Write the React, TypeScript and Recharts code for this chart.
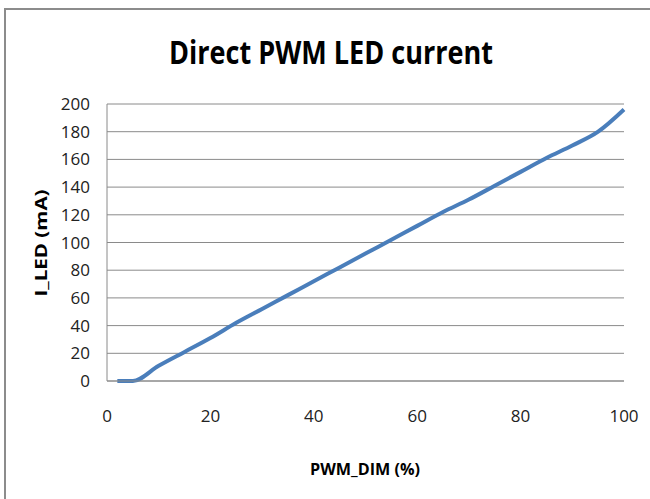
import { LineChart, Line, XAxis, YAxis, CartesianGrid } from "recharts";

const pwmDim = [2, 5, 10, 15, 20, 25, 30, 35, 40, 45, 50, 55, 60, 65, 70, 75, 80, 85, 90, 95, 100];
const iLed = [0, 0, 11, 21, 31, 42, 52, 62, 72, 82, 92, 102, 112, 122, 131, 141, 151, 161, 170, 180, 196];
const xTicks = [0, 20, 40, 60, 80, 100];
const yTicks = [0, 20, 40, 60, 80, 100, 120, 140, 160, 180, 200];

const data = pwmDim.map((x, i) => ({ x, y: iLed[i] }));

const FONT = "'Open Sans', 'Noto Sans', sans-serif";
const GRID = "#8a8a8a";

export default function App() {
  return (
    <div style={{ position: "absolute", left: 0, top: 0, width: 650, height: 499, overflow: "hidden", background: "#fff" }}>
      <div
        style={{
          position: "absolute",
          left: 4,
          top: 8,
          width: 700,
          height: 600,
          borderLeft: "2px solid #8c8c8c",
          borderTop: "2px solid #8c8c8c",
        }}
      />
      <LineChart
        width={650}
        height={499}
        data={data}
        margin={{ top: 104, right: 26, left: 0, bottom: 78 }}
        style={{ position: "absolute", left: 0, top: 0 }}
      >
        <CartesianGrid vertical={false} stroke={GRID} strokeWidth={1} />
        <XAxis
          dataKey="x"
          type="number"
          domain={[0, 100]}
          ticks={xTicks}
          height={40}
          tickSize={0}
          tickMargin={29}
          stroke={GRID}
          tick={{ fontSize: 17, fill: "#222", fontFamily: FONT }}
        />
        <YAxis
          type="number"
          domain={[0, 200]}
          ticks={yTicks}
          width={107}
          tickSize={0}
          tickMargin={17}
          stroke={GRID}
          tick={{ fontSize: 17, fill: "#222", fontFamily: FONT }}
        />
        <Line
          type="monotone"
          dataKey="y"
          stroke="#4a7ebb"
          strokeWidth={4}
          dot={false}
          isAnimationActive={false}
        />
      </LineChart>
      <svg width={650} height={499} style={{ position: "absolute", left: 0, top: 0, pointerEvents: "none" }}>
        <text
          x={169}
          y={64}
          fontFamily={FONT}
          fontWeight="bold"
          fontSize={32}
          textLength={324}
          lengthAdjust="spacingAndGlyphs"
          fill="#000"
        >
          Direct PWM LED current
        </text>
        <text
          x={365}
          y={475}
          textAnchor="middle"
          fontFamily={FONT}
          fontWeight="bold"
          fontSize={16}
          textLength={110}
          lengthAdjust="spacingAndGlyphs"
          fill="#000"
        >
          PWM_DIM (%)
        </text>
        <text
          transform="translate(47, 243) rotate(-90)"
          textAnchor="middle"
          fontFamily={FONT}
          fontWeight="bold"
          fontSize={16}
          textLength={107}
          lengthAdjust="spacingAndGlyphs"
          fill="#000"
        >
          I_LED (mA)
        </text>
      </svg>
    </div>
  );
}
